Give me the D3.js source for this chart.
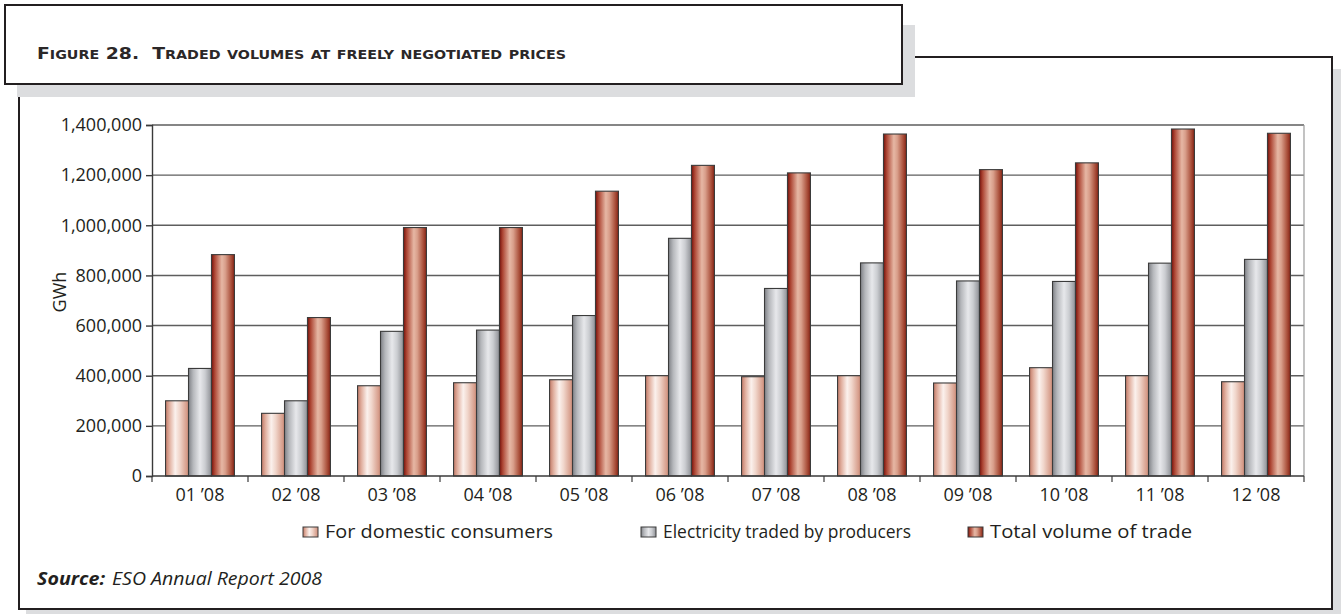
<!DOCTYPE html>
<html>
<head>
<meta charset="utf-8">
<script src="https://cdn.jsdelivr.net/npm/d3@7/dist/d3.min.js"></script>
<style>
  html, body { margin: 0; padding: 0; background: #fff; }
  svg { display: block; }
</style>
</head>
<body>
<svg id="chart" width="1341" height="614"></svg>
<script>
// Monthly traded volumes, 2008 (GWh)
const months = ["01 \u201908", "02 \u201908", "03 \u201908", "04 \u201908", "05 \u201908", "06 \u201908",
                "07 \u201908", "08 \u201908", "09 \u201908", "10 \u201908", "11 \u201908", "12 \u201908"];
const domesticConsumers = [300000, 250000, 360000, 372000, 384000, 400000,
                           396000, 400000, 371000, 432000, 400000, 376000];
const tradedByProducers = [429000, 300000, 577000, 582000, 640000, 948000,
                           748000, 850000, 778000, 776000, 849000, 864000];
const totalTrade = [883000, 632000, 991000, 991000, 1136000, 1239000,
                    1209000, 1364000, 1222000, 1249000, 1384000, 1367000];
const seriesNames = ["For domestic consumers", "Electricity traded by producers", "Total volume of trade"];
const yTicks = [0, 200000, 400000, 600000, 800000, 1000000, 1200000, 1400000];

const seriesValues = [domesticConsumers, tradedByProducers, totalTrade];
const gradIds = ["gDomestic", "gProducers", "gTotal"];

const svg = d3.select("#chart");
const ink = "#231f20";
const chartFont = "'Open Sans', 'Noto Sans', sans-serif";

// ---- gradients for the cylinder-like bars
const defs = svg.append("defs");
const gradStops = [
  [[0, "#c27a67"], [0.18, "#e2b2a2"], [0.42, "#fbf1ed"], [0.62, "#f0d5ca"], [1, "#cf8d79"]],
  [[0, "#7f8186"], [0.2, "#b5b7bb"], [0.5, "#e7e8eb"], [0.72, "#cbcdd1"], [1, "#8d8f94"]],
  [[0, "#76110a"], [0.14, "#ad4634"], [0.45, "#e6b7a4"], [0.6, "#d99f8b"], [0.85, "#ab523d"], [1, "#862214"]]
];
gradIds.forEach((id, i) => {
  const g = defs.append("linearGradient").attr("id", id)
    .attr("x1", "0%").attr("x2", "100%").attr("y1", "0%").attr("y2", "0%");
  gradStops[i].forEach(([o, c]) => g.append("stop").attr("offset", o).attr("stop-color", c));
});

// ---- outer frame with drop shadows
const shade = "#dcdddf";
svg.append("rect").attr("x", 26).attr("y", 69).attr("width", 1315).attr("height", 545).attr("fill", shade);
svg.append("rect").attr("x", 19).attr("y", 57).attr("width", 1313).attr("height", 552)
  .attr("fill", "#fff").attr("stroke", ink).attr("stroke-width", 2);

// title box with its shadow
svg.append("rect").attr("x", 17).attr("y", 25).attr("width", 898).attr("height", 72).attr("fill", shade);
svg.append("rect").attr("x", 5).attr("y", 5).attr("width", 897).attr("height", 79)
  .attr("fill", "#fff").attr("stroke", ink).attr("stroke-width", 2);

// title in small capitals
const titleText = "Figure 28.  Traded volumes at freely negotiated prices";
const title = svg.append("text").attr("x", 37).attr("y", 59)
  .attr("font-family", "'Liberation Sans Narrow', 'Arial Narrow', 'DejaVu Sans Condensed', sans-serif")
  .attr("font-weight", "bold").attr("fill", "#2b2728")
  .attr("textLength", 529).attr("lengthAdjust", "spacingAndGlyphs")
  .attr("xml:space", "preserve").style("white-space", "pre");
for (const ch of titleText) {
  const small = ch !== ch.toUpperCase();
  title.append("tspan").attr("font-size", small ? 12.5 : 16.5).text(ch.toUpperCase());
}

// ---- plot area
const plot = { left: 152, right: 1304, top: 125, bottom: 476 };

const x = d3.scaleBand().domain(months).range([plot.left, plot.right]).paddingInner(0).paddingOuter(0);
const xSub = d3.scaleBand().domain(d3.range(3)).range([0, x.bandwidth()]).paddingInner(0).paddingOuter(0.59);
const y = d3.scaleLinear().domain([0, 1400000]).range([plot.bottom, plot.top]);

// gridlines
svg.append("g").selectAll("line").data(yTicks.filter(d => d > 0)).join("line")
  .attr("x1", plot.left).attr("x2", plot.right)
  .attr("y1", d => y(d)).attr("y2", d => y(d))
  .attr("stroke", "#5e5e5e").attr("stroke-width", 1.4);

// right edge of plot area
svg.append("line").attr("x1", plot.right).attr("x2", plot.right)
  .attr("y1", plot.top).attr("y2", plot.bottom).attr("stroke", "#9a9a9a").attr("stroke-width", 1.2);

// y axis
const yAxis = svg.append("g").attr("transform", `translate(${plot.left},0)`)
  .call(d3.axisLeft(y).tickValues(yTicks).tickFormat(d3.format(",")).tickSize(6).tickPadding(4));
yAxis.select(".domain").attr("stroke", "#3a3a3a").attr("stroke-width", 1.4);
yAxis.selectAll(".tick line").attr("stroke", "#3a3a3a").attr("stroke-width", 1.4);
yAxis.selectAll(".tick text").attr("font-family", chartFont).attr("font-size", 18).attr("fill", ink);

// bars
const groups = svg.append("g").selectAll("g").data(months).join("g")
  .attr("transform", d => `translate(${x(d)},0)`);
groups.selectAll("rect").data((m, i) => seriesValues.map((s, k) => ({ k, v: s[i] }))).join("rect")
  .attr("x", d => xSub(d.k)).attr("width", xSub.bandwidth())
  .attr("y", d => y(d.v)).attr("height", d => y(0) - y(d.v))
  .attr("fill", d => `url(#${gradIds[d.k]})`)
  .attr("stroke", "#3b3b3b").attr("stroke-width", 1.1);

// x axis with ticks at category boundaries
svg.append("line").attr("x1", plot.left).attr("x2", plot.right)
  .attr("y1", plot.bottom).attr("y2", plot.bottom).attr("stroke", "#3a3a3a").attr("stroke-width", 1.4);
const boundaries = months.map(m => x(m)).concat([plot.right]);
svg.append("g").selectAll("line").data(boundaries).join("line")
  .attr("x1", d => d).attr("x2", d => d).attr("y1", plot.bottom).attr("y2", plot.bottom + 6)
  .attr("stroke", "#3a3a3a").attr("stroke-width", 1.2);
svg.append("g").selectAll("text").data(months).join("text")
  .attr("x", d => x(d) + x.bandwidth() / 2).attr("y", 501)
  .attr("text-anchor", "middle").attr("font-family", chartFont).attr("font-size", 18)
  .attr("fill", ink).text(d => d);

// y axis title
svg.append("text").attr("transform", "translate(66,292) rotate(-90)")
  .attr("text-anchor", "middle").attr("font-family", chartFont).attr("font-size", 18)
  .attr("fill", ink).text("GWh");

// legend
const legendX = [303, 641, 968];
const legendTextWidth = [228, 248, 202];
const legend = svg.append("g").selectAll("g").data(seriesNames).join("g")
  .attr("transform", (d, i) => `translate(${legendX[i]},527)`);
legend.append("rect").attr("width", 15).attr("height", 10)
  .attr("fill", (d, i) => `url(#${gradIds[i]})`).attr("stroke", "#3b3b3b").attr("stroke-width", 1);
legend.append("text").attr("x", 22).attr("y", 11)
  .attr("font-family", chartFont).attr("font-size", 18).attr("fill", ink)
  .attr("textLength", (d, i) => legendTextWidth[i]).attr("lengthAdjust", "spacingAndGlyphs")
  .text(d => d);

// source note
svg.append("text").attr("x", 37).attr("y", 585)
  .attr("font-family", chartFont).attr("font-size", 17.5).attr("font-style", "italic")
  .attr("font-weight", "bold").attr("fill", ink)
  .attr("textLength", 68).attr("lengthAdjust", "spacingAndGlyphs").text("Source:");
svg.append("text").attr("x", 112).attr("y", 585)
  .attr("font-family", chartFont).attr("font-size", 17.5).attr("font-style", "italic").attr("fill", ink)
  .attr("textLength", 210).attr("lengthAdjust", "spacingAndGlyphs").text("ESO Annual Report 2008");
</script>
</body>
</html>
